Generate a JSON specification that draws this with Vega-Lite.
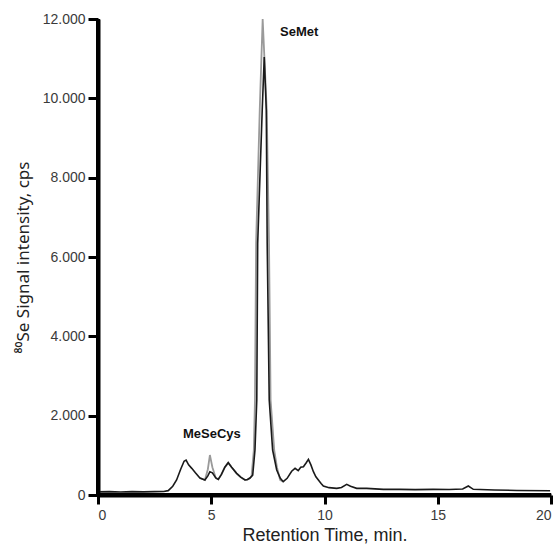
{
  "$schema": "https://vega.github.io/schema/vega-lite/v6.json",
  "autosize": "none",
  "width": 453,
  "height": 476,
  "padding": {"left": 98, "top": 19, "right": 7, "bottom": 53},
  "background": "white",
  "config": {"view": {"stroke": null}, "font": "Liberation Sans"},
  "datasets": {
    "trace": [
      {"s": "black", "t": 0, "v": 80}, {"s": "black", "t": 0.5, "v": 85}, {"s": "black", "t": 1.0, "v": 75}, {"s": "black", "t": 1.5, "v": 85},
      {"s": "black", "t": 2.0, "v": 80}, {"s": "black", "t": 2.5, "v": 85}, {"s": "black", "t": 2.9, "v": 90}, {"s": "black", "t": 3.1, "v": 110},
      {"s": "black", "t": 3.3, "v": 220}, {"s": "black", "t": 3.47, "v": 378}, {"s": "black", "t": 3.65, "v": 650}, {"s": "black", "t": 3.8, "v": 850},
      {"s": "black", "t": 3.89, "v": 880}, {"s": "black", "t": 4.0, "v": 760}, {"s": "black", "t": 4.14, "v": 672}, {"s": "black", "t": 4.3, "v": 560},
      {"s": "black", "t": 4.5, "v": 428}, {"s": "black", "t": 4.72, "v": 378}, {"s": "black", "t": 4.85, "v": 480}, {"s": "black", "t": 4.94, "v": 587},
      {"s": "black", "t": 5.05, "v": 560}, {"s": "black", "t": 5.2, "v": 430}, {"s": "black", "t": 5.31, "v": 395}, {"s": "black", "t": 5.45, "v": 520},
      {"s": "black", "t": 5.6, "v": 700}, {"s": "black", "t": 5.75, "v": 815}, {"s": "black", "t": 5.9, "v": 700}, {"s": "black", "t": 6.12, "v": 546},
      {"s": "black", "t": 6.3, "v": 450}, {"s": "black", "t": 6.49, "v": 378}, {"s": "black", "t": 6.6, "v": 390}, {"s": "black", "t": 6.71, "v": 428},
      {"s": "black", "t": 6.83, "v": 500}, {"s": "black", "t": 6.93, "v": 1134}, {"s": "black", "t": 7.01, "v": 2395}, {"s": "black", "t": 7.05, "v": 6350},
      {"s": "black", "t": 7.25, "v": 9700}, {"s": "black", "t": 7.34, "v": 11040}, {"s": "black", "t": 7.43, "v": 9700}, {"s": "black", "t": 7.47, "v": 6350},
      {"s": "black", "t": 7.56, "v": 2395}, {"s": "black", "t": 7.71, "v": 1134}, {"s": "black", "t": 7.89, "v": 630}, {"s": "black", "t": 8.05, "v": 420},
      {"s": "black", "t": 8.18, "v": 336}, {"s": "black", "t": 8.35, "v": 420}, {"s": "black", "t": 8.55, "v": 600}, {"s": "black", "t": 8.7, "v": 672},
      {"s": "black", "t": 8.84, "v": 613}, {"s": "black", "t": 8.95, "v": 700}, {"s": "black", "t": 9.07, "v": 714}, {"s": "black", "t": 9.2, "v": 820},
      {"s": "black", "t": 9.29, "v": 899}, {"s": "black", "t": 9.4, "v": 760}, {"s": "black", "t": 9.51, "v": 588}, {"s": "black", "t": 9.62, "v": 460},
      {"s": "black", "t": 9.73, "v": 378}, {"s": "black", "t": 9.85, "v": 290}, {"s": "black", "t": 9.95, "v": 227}, {"s": "black", "t": 10.2, "v": 185},
      {"s": "black", "t": 10.54, "v": 168}, {"s": "black", "t": 10.75, "v": 190}, {"s": "black", "t": 10.98, "v": 269}, {"s": "black", "t": 11.15, "v": 220},
      {"s": "black", "t": 11.42, "v": 168}, {"s": "black", "t": 11.86, "v": 168}, {"s": "black", "t": 12.6, "v": 143}, {"s": "black", "t": 13.33, "v": 143},
      {"s": "black", "t": 14.0, "v": 135}, {"s": "black", "t": 14.8, "v": 143}, {"s": "black", "t": 15.5, "v": 140}, {"s": "black", "t": 16.1, "v": 150},
      {"s": "black", "t": 16.35, "v": 227}, {"s": "black", "t": 16.57, "v": 143}, {"s": "black", "t": 17.5, "v": 125}, {"s": "black", "t": 18.5, "v": 115},
      {"s": "black", "t": 19.96, "v": 108},
      {"s": "gray", "t": 4.5, "v": 428}, {"s": "gray", "t": 4.72, "v": 378}, {"s": "gray", "t": 4.85, "v": 650}, {"s": "gray", "t": 4.94, "v": 1008},
      {"s": "gray", "t": 5.05, "v": 700}, {"s": "gray", "t": 5.2, "v": 430}, {"s": "gray", "t": 5.31, "v": 395},
      {"s": "gray", "t": 5.45, "v": 520}, {"s": "gray", "t": 5.6, "v": 700}, {"s": "gray", "t": 5.75, "v": 815}, {"s": "gray", "t": 5.9, "v": 700},
      {"s": "gray", "t": 6.12, "v": 546}, {"s": "gray", "t": 6.3, "v": 450}, {"s": "gray", "t": 6.49, "v": 378},
      {"s": "gray", "t": 6.6, "v": 390}, {"s": "gray", "t": 6.71, "v": 428}, {"s": "gray", "t": 6.78, "v": 480}, {"s": "gray", "t": 6.88, "v": 1134},
      {"s": "gray", "t": 6.93, "v": 2395}, {"s": "gray", "t": 6.98, "v": 6350}, {"s": "gray", "t": 7.14, "v": 9700}, {"s": "gray", "t": 7.27, "v": 12000},
      {"s": "gray", "t": 7.45, "v": 9700}, {"s": "gray", "t": 7.55, "v": 6350}, {"s": "gray", "t": 7.62, "v": 2395}, {"s": "gray", "t": 7.78, "v": 1134},
      {"s": "gray", "t": 7.9, "v": 700}, {"s": "gray", "t": 8.04, "v": 380}, {"s": "gray", "t": 8.18, "v": 336}
    ],
    "labels": [
      {"name": "SeMet", "t": 8.04, "v": 11680},
      {"name": "MeSeCys", "t": 5.03, "v": 1540}
    ],
    "xaxisline": [{"v": 0}],
    "yaxisline": [{"t": 0}]
  },
  "layer": [
    {
      "data": {"name": "trace"},
      "transform": [{"filter": "datum.s === 'gray'"}],
      "mark": {"type": "line", "color": "#9a9a9a", "strokeWidth": 1.8},
      "encoding": {
        "x": {"field": "t", "type": "quantitative", "scale": {"domain": [0, 20], "nice": false},
          "axis": {"title": "Retention Time, min.", "values": [0, 5, 10, 15, 20], "grid": false,
            "domainColor": "black", "domainWidth": 4, "tickColor": "black", "tickWidth": 3, "tickSize": 9,
            "labelFont": "Liberation Sans", "labelFontSize": 14, "labelColor": "#3a3a3a", "labelPadding": 4,
            "titleFont": "Liberation Sans", "titleFontSize": 18, "titleFontWeight": "normal", "titleColor": "#222", "titlePadding": 4}},
        "y": {"field": "v", "type": "quantitative", "scale": {"domain": [0, 12000], "nice": false},
          "axis": {"title": "⁸⁰Se Signal intensity, cps", "values": [0, 2000, 4000, 6000, 8000, 10000, 12000], "grid": false,
            "labelExpr": "replace(format(datum.value, ','), ',', '.')",
            "domainColor": "black", "domainWidth": 4, "tickColor": "black", "tickWidth": 3, "tickSize": 10,
            "labelFont": "Liberation Sans", "labelFontSize": 14, "labelColor": "#3a3a3a", "labelPadding": 3,
            "titleFont": "Noto Sans, Liberation Sans", "titleFontSize": 17, "titleFontWeight": "normal", "titleColor": "#222", "titlePadding": 10}}
      }
    },
    {
      "data": {"name": "trace"},
      "transform": [{"filter": "datum.s === 'black'"}],
      "mark": {"type": "line", "color": "#1a1a1a", "strokeWidth": 1.6},
      "encoding": {
        "x": {"field": "t", "type": "quantitative"},
        "y": {"field": "v", "type": "quantitative"}
      }
    },
    {
      "data": {"name": "yaxisline"},
      "mark": {"type": "rule", "color": "black", "strokeWidth": 4},
      "encoding": {"x": {"field": "t", "type": "quantitative"}}
    },
    {
      "data": {"name": "xaxisline"},
      "mark": {"type": "rule", "color": "black", "strokeWidth": 4},
      "encoding": {"y": {"field": "v", "type": "quantitative"}}
    },
    {
      "data": {"name": "labels"},
      "transform": [{"filter": "datum.name === 'SeMet'"}],
      "mark": {"type": "text", "fontWeight": "bold", "fontSize": 13, "color": "#111", "baseline": "middle", "align": "left", "font": "Liberation Sans"},
      "encoding": {
        "x": {"field": "t", "type": "quantitative"},
        "y": {"field": "v", "type": "quantitative"},
        "text": {"field": "name"}
      }
    },
    {
      "data": {"name": "labels"},
      "transform": [{"filter": "datum.name === 'MeSeCys'"}],
      "mark": {"type": "text", "fontWeight": "bold", "fontSize": 13, "color": "#111", "baseline": "middle", "align": "center", "font": "Liberation Sans"},
      "encoding": {
        "x": {"field": "t", "type": "quantitative"},
        "y": {"field": "v", "type": "quantitative"},
        "text": {"field": "name"}
      }
    }
  ]
}
